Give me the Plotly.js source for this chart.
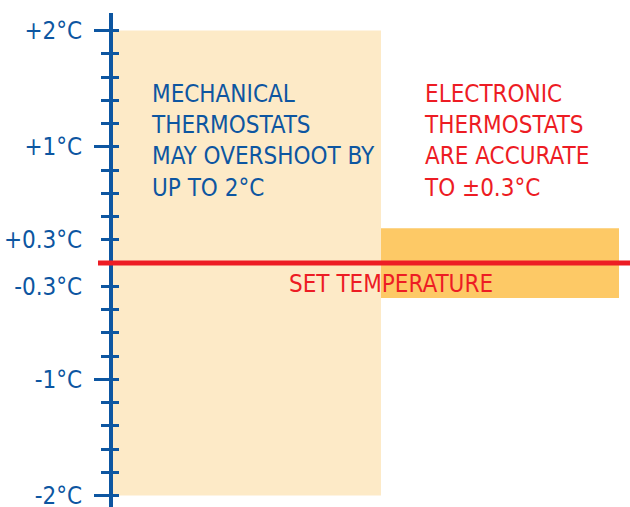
<!DOCTYPE html>
<html>
<head>
<meta charset="utf-8">
<script src="https://cdn.plot.ly/plotly-3.0.1.min.js"></script>
<style>html,body{margin:0;padding:0;background:#fff;}#chart{width:630px;height:507px;}</style>
</head>
<body>
<div id="chart"></div>
<script>
// ---- data ----
const categories = ['Mechanical', 'Electronic'];
const tolerance = [2, 0.3];            // ± °C
const setTemperature = 0;
const tickLabels = ['+2°C', '+1°C', '+0.3°C', '-0.3°C', '-1°C', '-2°C'];
const tickLabelValues = [2, 1, 0.2, -0.2, -1, -2];
const majorTickValues = [2, 1, -1, -2];
const mechanicalNote = 'MECHANICAL<br>THERMOSTATS<br>MAY OVERSHOOT BY<br>UP TO 2°C';
const electronicNote = 'ELECTRONIC<br>THERMOSTATS<br>ARE ACCURATE<br>TO ±0.3°C';
const setLabel = 'SET TEMPERATURE';

// ---- styling ----
const BLUE = '#0d56a1';
const RED = '#ed1c24';
const FONT = '"Liberation Sans Narrow", "Arial Narrow", "DejaVu Sans Condensed", sans-serif';
const yRange = [-2.099, 2.151];

// all small tick positions every 0.2 except 0
const allTicks = [];
for (let i = -10; i <= 10; i++) { if (i !== 0) allTicks.push(+(i * 0.2).toFixed(1)); }

const traces = [{
  type: 'bar',
  x: categories,
  y: tolerance.map(t => 2 * t),
  base: tolerance.map(t => -t),
  width: [1, 0.888],
  offset: [-0.5, -0.5],
  marker: { color: ['#fdeac7', '#fdc966'], line: { width: 0 } },
  hoverinfo: 'skip',
  showlegend: false
},
{ type: 'scatter', x: [], y: [], yaxis: 'y2', showlegend: false },
{ type: 'scatter', x: [], y: [], yaxis: 'y3', showlegend: false },
{ type: 'scatter', x: [], y: [], yaxis: 'y4', showlegend: false }];

const baseY = { range: yRange, showgrid: false, zeroline: false, fixedrange: true };

const layout = {
  width: 630, height: 507,
  margin: { l: 113, r: 0, t: 13, b: 0, pad: 0 },
  paper_bgcolor: '#ffffff', plot_bgcolor: 'rgba(0,0,0,0)',
  showlegend: false,
  xaxis: { type: 'category', range: [-0.5, 1.429], visible: false, fixedrange: true },
  yaxis: Object.assign({}, baseY, {
    tickmode: 'array', tickvals: tickLabelValues, ticktext: tickLabels,
    ticks: '', showline: true, linewidth: 4, linecolor: BLUE,
    ticklabelstandoff: 22, ticklabeloverflow: 'allow',
    tickfont: { family: FONT, size: 24, color: BLUE }
  }),
  yaxis2: Object.assign({}, baseY, {
    overlaying: 'y', anchor: 'x', side: 'left',
    tickmode: 'array', tickvals: allTicks, ticks: 'outside', ticklen: 11, tickwidth: 3,
    tickcolor: BLUE, showticklabels: false, showline: false
  }),
  yaxis3: Object.assign({}, baseY, {
    overlaying: 'y', anchor: 'x', side: 'left',
    tickmode: 'array', tickvals: majorTickValues, ticks: 'outside', ticklen: 18, tickwidth: 3,
    tickcolor: BLUE, showticklabels: false, showline: false
  }),
  yaxis4: Object.assign({}, baseY, {
    overlaying: 'y', anchor: 'x', side: 'left',
    tickmode: 'array', tickvals: allTicks, ticks: 'inside', ticklen: 6, tickwidth: 3,
    tickcolor: BLUE, showticklabels: false, showline: false
  }),
  shapes: [{
    type: 'line', xref: 'paper', yref: 'y',
    x0: -0.029, x1: 1, y0: setTemperature, y1: setTemperature,
    line: { color: RED, width: 5 }, layer: 'above'
  }],
  annotations: [
    { text: mechanicalNote, xref: 'paper', yref: 'paper', x: 0.0697, y: 0.741,
      xanchor: 'left', yanchor: 'middle', align: 'left', showarrow: false,
      font: { family: FONT, size: 24, color: BLUE } },
    { text: electronicNote, xref: 'paper', yref: 'paper', x: 0.597, y: 0.741,
      xanchor: 'left', yanchor: 'middle', align: 'left', showarrow: false,
      font: { family: FONT, size: 24, color: RED } },
    { text: setLabel, xref: 'paper', yref: 'paper', x: 0.337, y: 0.451,
      xanchor: 'left', yanchor: 'middle', align: 'left', showarrow: false,
      font: { family: FONT, size: 24, color: RED } }
  ]
};

Plotly.newPlot('chart', traces, layout, { staticPlot: true, displayModeBar: false });
</script>
</body>
</html>
